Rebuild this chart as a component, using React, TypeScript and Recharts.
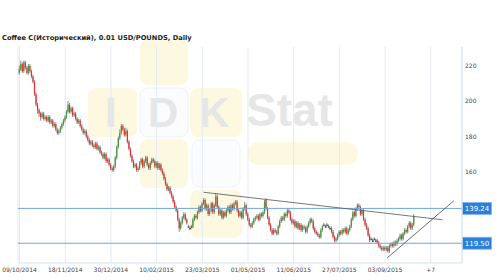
import React from 'react';
import { ComposedChart, Bar, XAxis, YAxis, CartesianGrid, ReferenceLine } from 'recharts';

const closes = [
  218, 221, 217, 222, 219, 216, 220, 217, 214, 211,
  204, 198, 195, 193, 191, 193, 190, 191, 189, 191,
  188, 189, 186, 187, 184, 182, 183, 185, 187, 189,
  191, 194, 198, 194, 196, 192, 193, 190, 188, 189,
  186, 184, 182, 183, 180, 178, 176, 177, 175, 174,
  176, 173, 174, 171, 170, 168, 170, 166, 167, 164,
  162, 161, 163, 168, 174, 179, 182, 186, 184, 181,
  183, 177, 173, 169, 166, 163, 164, 161, 162, 165,
  167, 163, 166, 168, 164, 162, 165, 167, 166, 163,
  165, 162, 164, 161, 159, 156, 153, 150, 151, 148,
  146, 143, 140, 138, 133, 128, 131, 134, 136, 133,
  131, 129, 128, 129, 133, 135, 134, 137, 140, 138,
  142, 144, 139, 141, 136, 138, 142, 137, 141, 146,
  140, 136, 138, 134, 137, 135, 138, 140, 137, 141,
  139, 142, 143, 138, 135, 137, 134, 139, 141, 136,
  133, 130, 129, 131, 133, 134, 135, 133, 136, 135,
  137, 143, 139, 134, 130, 127, 125, 127, 126, 125,
  129, 132, 134, 133, 136, 135, 138, 137, 133, 131,
  132, 129, 131, 128, 130, 127, 129, 128, 126, 129,
  131, 133, 132, 128, 126, 125, 124, 123, 127, 129,
  130, 129, 130, 129, 128, 126, 123, 121, 122, 124,
  126, 125, 127, 126, 128, 125, 127, 129, 133, 137,
  135, 139, 141, 140, 136, 138, 133, 130, 128, 124,
  121, 122, 121, 122, 121, 120, 118, 117, 116, 117,
  116, 117, 115, 118, 119, 118, 120, 119, 121, 122,
  124, 122, 125, 127, 126, 129, 131, 128, 130, 135,
];

const opens = [
  216, 218, 221, 217, 222, 219, 216, 220, 217, 214,
  211, 204, 198, 195, 193, 191, 193, 190, 191, 189,
  191, 188, 189, 186, 187, 184, 182, 183, 185, 187,
  189, 191, 194, 198, 194, 196, 192, 193, 190, 188,
  189, 186, 184, 182, 183, 180, 178, 176, 177, 175,
  174, 176, 173, 174, 171, 170, 168, 170, 166, 167,
  164, 162, 161, 163, 168, 174, 179, 182, 186, 184,
  181, 183, 177, 173, 169, 166, 163, 164, 161, 162,
  165, 167, 163, 166, 168, 164, 162, 165, 167, 166,
  163, 165, 162, 164, 161, 159, 156, 153, 150, 151,
  148, 146, 143, 140, 138, 133, 128, 131, 134, 136,
  133, 129, 128, 129, 129, 133, 135, 134, 137, 140,
  138, 142, 144, 139, 141, 136, 138, 142, 137, 141,
  146, 140, 136, 138, 134, 137, 135, 138, 140, 137,
  141, 139, 142, 143, 138, 135, 137, 134, 139, 141,
  136, 133, 130, 129, 131, 133, 134, 135, 133, 136,
  135, 137, 144, 139, 134, 130, 127, 125, 127, 126,
  125, 129, 132, 134, 133, 136, 135, 138, 137, 133,
  131, 132, 129, 131, 128, 130, 127, 129, 128, 126,
  129, 131, 133, 132, 128, 126, 125, 124, 123, 127,
  130, 129, 130, 129, 128, 128, 126, 123, 121, 122,
  124, 126, 125, 127, 126, 128, 125, 127, 129, 133,
  137, 135, 139, 141, 140, 136, 138, 133, 130, 128,
  124, 122, 121, 122, 121, 121, 120, 118, 117, 116,
  117, 116, 117, 115, 118, 119, 118, 120, 119, 121,
  122, 124, 122, 125, 127, 126, 129, 131, 128, 130,
];

const highs = [
  220, 223, 222, 223, 223, 220, 221, 221, 218, 215,
  212, 205, 199, 196, 194, 194, 194, 192, 192, 192,
  192, 190, 190, 188, 188, 185, 184, 186, 188, 190,
  192, 195, 200, 199, 197, 197, 194, 194, 191, 190,
  190, 187, 185, 184, 184, 181, 179, 178, 178, 176,
  177, 177, 175, 175, 172, 171, 171, 171, 168, 168,
  165, 163, 164, 169, 175, 180, 184, 187, 187, 185,
  185, 184, 178, 174, 170, 167, 165, 165, 163, 166,
  168, 168, 167, 169, 169, 165, 166, 168, 168, 167,
  166, 166, 165, 165, 162, 160, 157, 154, 152, 152,
  149, 147, 144, 141, 139, 134, 132, 135, 137, 137,
  134, 130, 129, 130, 134, 136, 136, 138, 141, 141,
  143, 145, 145, 142, 142, 139, 143, 143, 142, 148,
  147, 141, 139, 139, 138, 138, 139, 141, 141, 142,
  142, 143, 144, 144, 139, 138, 138, 140, 143, 142,
  137, 134, 131, 132, 134, 135, 136, 136, 137, 137,
  138, 144, 145, 140, 135, 131, 128, 128, 128, 127,
  130, 133, 135, 135, 137, 137, 139, 139, 138, 134,
  133, 133, 132, 132, 131, 131, 130, 130, 129, 130,
  132, 134, 134, 133, 129, 127, 126, 125, 128, 130,
  131, 130, 131, 130, 129, 129, 127, 124, 123, 125,
  127, 127, 128, 128, 129, 129, 128, 130, 134, 138,
  138, 140, 142, 142, 141, 139, 139, 134, 131, 129,
  125, 123, 122, 123, 122, 122, 121, 119, 118, 118,
  118, 118, 118, 119, 120, 120, 121, 121, 122, 123,
  125, 125, 126, 128, 128, 130, 132, 132, 131, 136,
];

const lows = [
  215, 217, 216, 216, 218, 215, 215, 216, 213, 210,
  203, 197, 193, 191, 189, 190, 189, 189, 188, 188,
  187, 187, 185, 185, 183, 181, 181, 182, 184, 186,
  188, 190, 193, 193, 193, 191, 191, 189, 187, 187,
  185, 183, 181, 181, 179, 177, 175, 175, 174, 173,
  173, 172, 172, 170, 169, 167, 167, 165, 165, 163,
  161, 160, 160, 162, 167, 173, 178, 181, 183, 180,
  180, 176, 172, 168, 165, 162, 162, 160, 160, 161,
  164, 162, 162, 165, 163, 161, 161, 164, 165, 162,
  162, 161, 161, 160, 158, 155, 152, 149, 149, 147,
  145, 142, 139, 137, 132, 126, 127, 130, 133, 132,
  130, 128, 127, 128, 128, 132, 133, 133, 136, 137,
  137, 141, 138, 138, 135, 135, 137, 136, 136, 140,
  139, 135, 135, 133, 133, 134, 134, 137, 136, 136,
  138, 138, 141, 137, 134, 134, 133, 133, 138, 135,
  132, 129, 128, 128, 130, 132, 133, 132, 132, 134,
  134, 136, 138, 133, 129, 126, 124, 124, 125, 124,
  124, 128, 131, 132, 132, 134, 134, 136, 132, 130,
  130, 128, 128, 127, 127, 126, 126, 127, 125, 125,
  128, 130, 131, 127, 125, 124, 123, 122, 122, 126,
  129, 128, 129, 128, 127, 125, 122, 120, 120, 121,
  123, 124, 124, 125, 125, 124, 124, 126, 128, 132,
  134, 134, 138, 139, 135, 135, 132, 129, 127, 123,
  120, 121, 120, 121, 120, 119, 117, 116, 115, 115,
  115, 115, 114, 114, 117, 117, 117, 118, 118, 120,
  121, 121, 121, 124, 125, 125, 128, 127, 127, 129,
];

const tickLabels = ['09/10/2014', '18/11/2014', '30/12/2014', '10/02/2015', '23/03/2015', '01/05/2015', '11/06/2015', '27/07/2015', '03/09/2015', '+7'];
const tickIndexes = [0, 30, 60, 90, 120, 150, 180, 210, 240, 270];
const priceTicks = [160, 180, 200, 220];
const levels = [139.24, 119.5];
const resistance = [{ x: 120.8, y: 148.4 }, { x: 277.7, y: 132.8 }];
const support = [{ x: 241.4, y: 111.2 }, { x: 285.2, y: 143.6 }];

const data = closes.map((c, i) => ({ i, o: opens[i], h: highs[i], l: lows[i], c, range: [lows[i], highs[i]] }));

const Candle = (props: any) => {
  const { x, y, width, height, payload } = props;
  if (!payload) return null;
  const { o, h, l, c } = payload;
  const top = Math.min(y, y + height);
  const hh = Math.abs(height);
  const cx = x + width / 2;
  const k = h > l ? hh / (h - l) : 0;
  const yO = top + (h - o) * k;
  const yC = top + (h - c) * k;
  const bt = Math.min(yO, yC);
  const bh = Math.max(Math.abs(yO - yC), 1);
  const doji = o === c;
  const color = doji ? '#333' : c > o ? '#3e9a36' : '#ee2a2a';
  return (
    <g>
      <line x1={cx} x2={cx} y1={top} y2={top + hh} stroke="#8c8c8c" strokeWidth={1} />
      <rect x={cx - 0.6} y={bt} width={doji ? 2 : 1.2} height={bh} fill={color} />
    </g>
  );
};

const PriceTag = (props: any) => {
  const { viewBox, value } = props;
  if (!viewBox) return null;
  const x = viewBox.x + viewBox.width;
  const y = viewBox.y;
  return (
    <g>
      <rect x={x + 0.5} y={y - 6} width={29} height={12} fill="#2a7fd8" stroke="#86b7e8" strokeWidth={0.8} />
      <text x={x + 15} y={y + 2.5} textAnchor="middle" fill="#fff" fontSize={7} fontFamily="DejaVu Sans">{value}</text>
    </g>
  );
};

const Watermark = () => {
  const yellow = '#fdf8e0';
  const letter = '#e6e6e6';
  return (
    <svg width={500} height={280} style={{ position: 'absolute', left: 0, top: 0 }}>
      <rect x={140} y={40} width={48} height={45} rx={8} fill={yellow} />
      <rect x={88} y={88} width={49} height={49} rx={8} fill={yellow} />
      <rect x={140} y={88} width={48} height={49} rx={8} fill="#fbfcfe" stroke="#eef1f5" />
      <rect x={190} y={88} width={52} height={49} rx={8} fill={yellow} />
      <rect x={140} y={139} width={48} height={49} rx={8} fill={yellow} />
      <rect x={192} y={140} width={48} height={47} rx={8} fill="#fbfcfe" stroke="#eef1f5" />
      <rect x={190} y={190} width={52} height={48} rx={8} fill={yellow} />
      <rect x={248} y={142} width={110} height={23} rx={11} fill={yellow} />
      <text x={105} y={127} fontSize={42} fontWeight="bold" fontFamily="Liberation Sans" fill={letter}>I</text>
      <text x={148} y={127} fontSize={42} fontWeight="bold" fontFamily="Liberation Sans" fill={letter}>D</text>
      <text x={199} y={127} fontSize={42} fontWeight="bold" fontFamily="Liberation Sans" fill={letter}>K</text>
      <text x={246} y={126} fontSize={46} fontWeight="bold" fontFamily="Liberation Sans" fill={letter}>Stat</text>
      <text x={2} y={40} fontSize={6.7} fontWeight="bold" fontFamily="DejaVu Sans" fill="#222">Coffee C(Исторический), 0.01 USD/POUNDS, Daily</text>
    </svg>
  );
};

export default function App() {
  return (
    <div style={{ position: 'fixed', left: 0, top: 0, width: 500, height: 280, background: '#fff' }}>
      <Watermark />
      <div style={{ position: 'absolute', left: 0, top: 0 }}>
        <ComposedChart width={500} height={280} data={data} margin={{ top: 47, right: 0, bottom: 0, left: 18 }}>
          <CartesianGrid horizontal={false} vertical stroke="#e2ebf3" />
          <XAxis
            type="number"
            dataKey="i"
            domain={[-1, 290.5]}
            ticks={tickIndexes}
            interval={0}
            allowDataOverflow
            tickFormatter={(v: number) => tickLabels[tickIndexes.indexOf(v)] ?? ''}
            height={17}
            axisLine={{ stroke: '#d3e2ef' }}
            tickLine={false}
            tickSize={0}
            tickMargin={5}
            tick={{ fontSize: 6, fill: '#444', fontFamily: 'DejaVu Sans' }}
          />
          <YAxis
            orientation="right"
            type="number"
            domain={[108.3, 230.7]}
            ticks={priceTicks}
            allowDataOverflow
            width={38}
            axisLine={{ stroke: '#d3e2ef' }}
            tickLine={false}
            tickSize={0}
            tickMargin={3}
            tick={{ fontSize: 6, fill: '#444', fontFamily: 'DejaVu Sans', textAnchor: 'start' }}
          />
          {levels.map((lv) => (
            <ReferenceLine key={lv} y={lv} stroke="#6ea8e2" strokeWidth={1} label={<PriceTag value={lv.toFixed(2)} />} />
          ))}
          <Bar dataKey="range" barSize={1} shape={<Candle />} isAnimationActive={false} />
          <ReferenceLine segment={resistance} stroke="#555" strokeWidth={0.8} />
          <ReferenceLine segment={support} stroke="#444" strokeWidth={0.8} />
        </ComposedChart>
      </div>
    </div>
  );
}
